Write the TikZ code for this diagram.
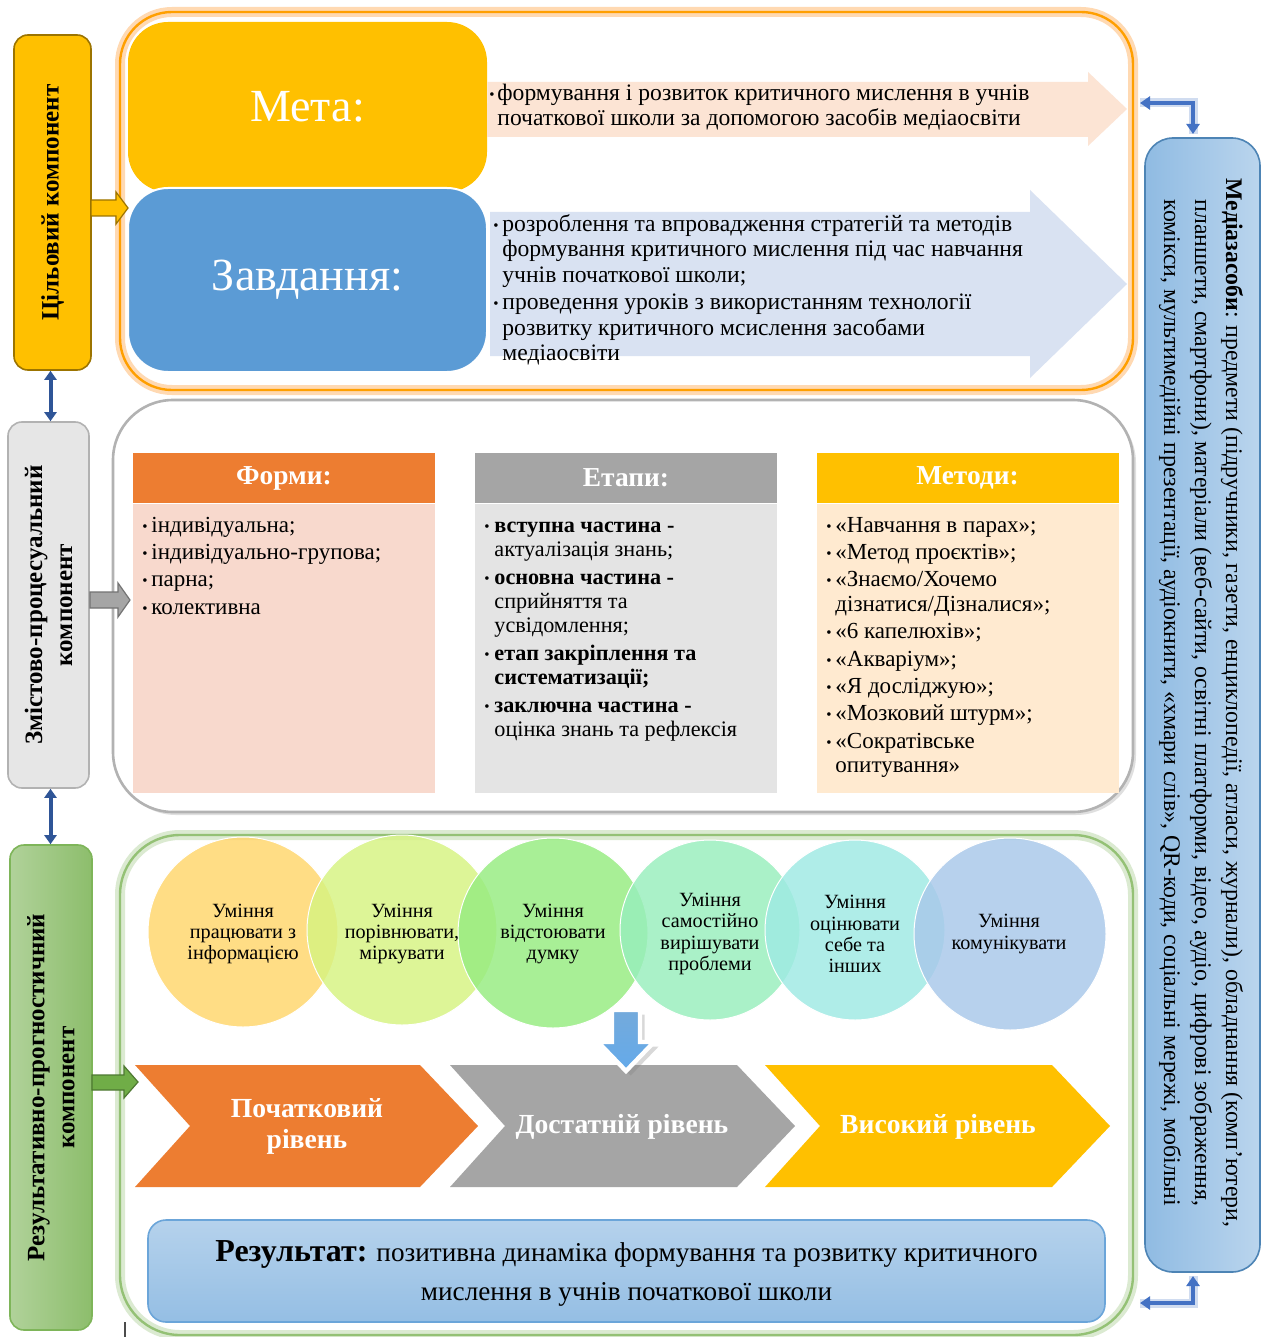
\documentclass[tikz,border=0pt]{standalone}
\usepackage{fontspec}
\setmainfont{Liberation Serif}
\usetikzlibrary{calc,shadows,arrows.meta}
\definecolor{gold}{HTML}{FFC000}
\definecolor{goldline}{HTML}{9C7400}
\definecolor{zblue}{HTML}{5B9BD5}
\definecolor{orng}{HTML}{ED7D31}
\definecolor{gry}{HTML}{A5A5A5}
\definecolor{peach}{HTML}{FCE4D4}
\definecolor{lblue}{HTML}{D9E2F2}
\definecolor{formbg}{HTML}{F8D9CD}
\definecolor{etapbg}{HTML}{E4E4E4}
\definecolor{methbg}{HTML}{FFEAD0}
\definecolor{darkblue}{HTML}{2F5597}
\definecolor{medblue}{HTML}{4472C4}
\definecolor{lgray}{HTML}{E6E6E6}
\definecolor{grn}{HTML}{70AD47}
\definecolor{cA}{HTML}{FFD66B}
\definecolor{cB}{HTML}{D6F381}
\definecolor{cC}{HTML}{96EC80}
\definecolor{cD}{HTML}{98EEBC}
\definecolor{cE}{HTML}{9EEAE4}
\definecolor{cF}{HTML}{A8C8EA}
\newcommand\bul[1][4.5pt]{\noindent\hangindent=#1\hangafter=1\makebox[#1][l]{\raisebox{0.5pt}{\fontsize{7.5}{7.5}\selectfont\textbullet}}}
\newcommand\lst[3]{\parbox[t]{#1}{\raggedright\setlength\parskip{#2}#3\par}}
\begin{document}
\begin{tikzpicture}[x=0.5pt,y=-0.5pt,
  lbl/.style={font=\fontsize{12.5}{15}\selectfont\bfseries, align=center, rotate=90, inner sep=0},
  body/.style={anchor=base west, inner sep=0},
  hdr/.style={minimum width=151pt, minimum height=25pt, inner sep=0, text=white, font=\fontsize{13.7}{15}\selectfont\bfseries},
  col/.style={minimum width=151pt, minimum height=144.5pt, inner sep=0},
  circ/.style={circle, minimum size=#1, inner sep=0, draw=white, line width=0.5pt, fill opacity=0.82},
  ctext/.style={align=center, inner sep=0, font=\fontsize{10.1}{10.6}\selectfont},
  chev/.style={text=white, align=center, font=\fontsize{13.8}{15.5}\selectfont\bfseries, inner sep=0},
  dblarrow/.style={darkblue, line width=2pt, {Triangle[length=4.5pt,width=6pt]}-{Triangle[length=4.5pt,width=6pt]}},
  elbow/.style={medblue, line width=1.6pt, {Triangle[length=5pt,width=6.5pt]}-{Triangle[length=5pt,width=6.5pt]}, preaction={draw=medblue!25, line width=4.5pt, -}},
]
\useasboundingbox[fill=white] (0,0) rectangle (1262,1337);

% ---------- right media box ----------
\node[draw=zblue!85!black, line width=0.8pt, rounded corners=14pt, left color=zblue!68, right color=zblue!42,
      minimum width=57.5pt, minimum height=567pt, inner sep=0] (med) at (1202.5,705) {};
\node[rotate=-90, align=center, inner sep=0, font=\fontsize{11.9}{15.5}\selectfont] (medt) at (1201,703)
 {\textbf{Медіазасоби}: предмети (підручники, газети, енциклопедії, атласи, журнали), обладнання (комп’ютери,\\
  планшети, смартфони), матеріали (веб-сайти, освітні платформи, відео, аудіо, цифрові зображення,\\
  комікси, мультимедійні презентації, аудіокниги, «хмари слів», QR-коди, соціальні мережі, мобільні};

% ---------- top container ----------
\node[draw=orange!75!yellow, line width=1.2pt, rounded corners=26pt, minimum width=506.5pt, minimum height=189pt,
      inner sep=0, preaction={draw=orange!30, line width=5pt}] (top) at (626.5,201) {};
\node[fill=gold, rounded corners=20pt, minimum width=179.5pt, minimum height=85pt, inner sep=0,
      text=white, font=\fontsize{23}{28}\selectfont] (meta) at (307.5,107) {Мета:};
\node[fill=zblue, draw=white, line width=1pt, rounded corners=20pt, minimum width=179.5pt, minimum height=92pt, inner sep=0,
      text=white, font=\fontsize{23}{28}\selectfont] (zavd) at (307.5,280) {Завдання:};
\fill[peach] (meta.east) ++(0,-25) -- (1088,82) -- (1088,72) -- (1127,109) -- (1088,146) -- (1088,137) -- (487,137) -- cycle;
\fill[lblue] (490,212) -- (1030,212) -- (1030,190) -- (1127,284) -- (1030,378) -- (1030,356) -- (490,356) -- cycle;
\node[body, font=\fontsize{11.8}{12.5}\selectfont] (metat) at (489,101)
 {\lst{320pt}{0pt}{\bul[4pt]формування і розвиток критичного мислення в учнів\newline початкової школи за допомогою засобів медіаосвіти}};
\node[body, font=\fontsize{11.8}{12.5}\selectfont] (zavdt) at (493,232)
 {\lst{320pt}{1.5pt}{\bul[4.5pt]розроблення та впровадження стратегій та методів\newline формування критичного мислення під час навчання\newline учнів початкової школи;\par
  \bul[4.5pt]проведення уроків з використанням технології\newline розвитку критичного мсислення засобами\newline медіаосвіти}};

% elbow connectors to media box
\coordinate (e1) at (1140,103);
\coordinate (e2) at (1193,134);
\coordinate (e3) at (1193,1276);
\coordinate (e4) at (1140,1303);
\draw[elbow] (e1) -| (e2);
\draw[elbow] (e3) |- (e4);

% ---------- middle container ----------
\node[draw=black!30, line width=1.3pt, rounded corners=30pt, fill=white, minimum width=510pt, minimum height=206pt, inner sep=0,
      drop shadow={opacity=0.25, shadow xshift=1.5pt, shadow yshift=-1.5pt}] (mid) at (623,606) {};
\node[hdr, fill=orng] (fh) at (284,478) {Форми:};
\node[col, fill=formbg, anchor=north] (fb) at (fh.south) {};
\node[hdr, fill=gry] (eh) at (626,478) {Етапи:};
\node[col, fill=etapbg, anchor=north] (eb) at (eh.south) {};
\node[hdr, fill=gold] (mh) at (967.5,478) {Методи:};
\node[col, fill=methbg, anchor=north] (mb) at (mh.south) {};
\node[body, font=\fontsize{11.5}{13.7}\selectfont] (ft) at (142,532)
 {\lst{145pt}{0pt}{\bul індивідуальна;\par\bul індивідуально-групова;\par\bul парна;\par\bul колективна}};
\node[body, font=\fontsize{11.1}{12}\selectfont] (et) at (484,532)
 {\lst{145pt}{2pt}{\bul[5pt]\textbf{вступна частина -}\newline актуалізація знань;\par
  \bul[5pt]\textbf{основна частина -}\newline сприйняття та\newline усвідомлення;\par
  \bul[5pt]\textbf{етап закріплення та\newline систематизації;}\par
  \bul[5pt]\textbf{заключна частина -}\newline оцінка знань та рефлексія}};
\node[body, font=\fontsize{11.5}{12.2}\selectfont] (mt) at (826,532)
 {\lst{145pt}{1.5pt}{\bul«Навчання в парах»;\par\bul«Метод проєктів»;\par\bul«Знаємо/Хочемо\newline дізнатися/Дізналися»;\par
  \bul«6 капелюхів»;\par\bul«Акваріум»;\par\bul«Я досліджую»;\par\bul«Мозковий штурм»;\par
  \bul«Сократівське\newline опитування»}};

% ---------- bottom container ----------
\node[draw=grn!75, line width=1.2pt, rounded corners=30pt, minimum width=506.5pt, minimum height=250pt, inner sep=0,
      preaction={draw=grn!25, line width=5pt}] (bot) at (626.5,1085) {};
\node[circ=95pt, fill=cA] (c1) at (243,932) {};
\node[circ=95pt, fill=cB] (c2) at (402,930) {};
\node[circ=95pt, fill=cC] (c3) at (553,933) {};
\node[circ=90pt, fill=cD] (c4) at (710,930) {};
\node[circ=90pt, fill=cE] (c5) at (855,930) {};
\node[circ=96pt, fill=cF] (c6) at (1010,934) {};
\node[ctext] (t1) at (243,934) {Уміння\\працювати з\\інформацією};
\node[ctext] (t2) at (402,934) {Уміння\\порівнювати,\\міркувати};
\node[ctext] (t3) at (553,934) {Уміння\\відстоювати\\думку};
\node[ctext] (t4) at (710,934) {Уміння\\самостійно\\вирішувати\\проблеми};
\node[ctext] (t5) at (855,934) {Уміння\\оцінювати\\себе та\\інших};
\node[ctext] (t6) at (1009,934) {Уміння\\комунікувати};

% chevrons
\fill[orng] (135,1065) -- (420,1065) -- (478,1126) -- (420,1187) -- (135,1187) -- (190,1126) -- cycle;
\fill[gry] (450,1065) -- (737,1065) -- (795,1126) -- (737,1187) -- (450,1187) -- (505,1126) -- cycle;
\fill[gold] (765,1065) -- (1052,1065) -- (1110,1126) -- (1052,1187) -- (765,1187) -- (820,1126) -- cycle;
\node[chev] (l1) at (307,1126) {Початковий\\рівень};
\node[chev] (l2) at (622,1127) {Достатній рівень};
\node[chev] (l3) at (938,1127) {Високий рівень};

% down arrow
\coordinate (da) at (626,1010);
\coordinate (db) at (626,1071);
\filldraw[draw=white, line width=2.2pt, top color=zblue!85, bottom color=zblue!110!black, drop shadow={opacity=0.3}]
  (612,1010) -- (640,1010) -- (640,1042) -- (654,1042) -- (db) -- (598,1042) -- (612,1042) -- cycle;

% result
\node[draw=zblue!90, line width=0.8pt, rounded corners=9pt, top color=zblue!45, bottom color=zblue!65,
      minimum width=478.5pt, minimum height=51pt, inner sep=0] (res) at (626.5,1271) {};
\node[align=center, inner sep=0, font=\fontsize{13.6}{19.5}\selectfont] (rest) at (626.5,1273)
 {{\fontsize{16}{19.5}\selectfont\bfseries Результат:} позитивна динаміка формування та розвитку критичного\\мислення в учнів початкової школи};

% ---------- left components ----------
\node[fill=gold, draw=goldline, line width=0.8pt, rounded corners=7pt, minimum width=38.5pt, minimum height=167.5pt, inner sep=0] (cil) at (52.5,202.5) {};
\node[lbl] (cilt) at (cil) {Цільовий компонент};
\node[fill=lgray, draw=black!30, line width=0.8pt, rounded corners=7pt, minimum width=40.5pt, minimum height=183pt, inner sep=0] (zm) at (48.5,605) {};
\node[lbl] (zmt) at (zm) {Змістово-процесуальний\\компонент};
\node[left color=grn!55, right color=grn!80, draw=grn!90, line width=0.8pt, rounded corners=7pt, minimum width=41pt, minimum height=242.5pt, inner sep=0] (rz) at (51,1087.5) {};
\node[lbl] (rzt) at (rz) {Результативно-прогностичний\\компонент};

\coordinate (d1) at ([xshift=-1pt]cil.south);
\coordinate (d2) at ([xshift=1pt]zm.south);
\draw[dblarrow] (d1) -- (d1 |- zm.north);
\draw[dblarrow] (d2) -- (d2 |- rz.north);

% block arrows from components
\filldraw[fill=gold, draw=goldline, line width=0.6pt] (91,200) -- (116,200) -- (116,192) -- (128,208) -- (116,224) -- (116,216) -- (91,216) -- cycle;
\filldraw[fill=gry, draw=black!55, line width=0.6pt] (90,592) -- (118,592) -- (118,583) -- (130,600) -- (118,617) -- (118,608) -- (90,608) -- cycle;
\filldraw[fill=grn, draw=grn!70!black, line width=0.6pt] (92,1075) -- (124,1075) -- (124,1066) -- (138,1082) -- (124,1098) -- (124,1090) -- (92,1090) -- cycle;

\draw[black!70, line width=0.6pt] (125,1322) -- (125,1337);
\end{tikzpicture}
\end{document}
